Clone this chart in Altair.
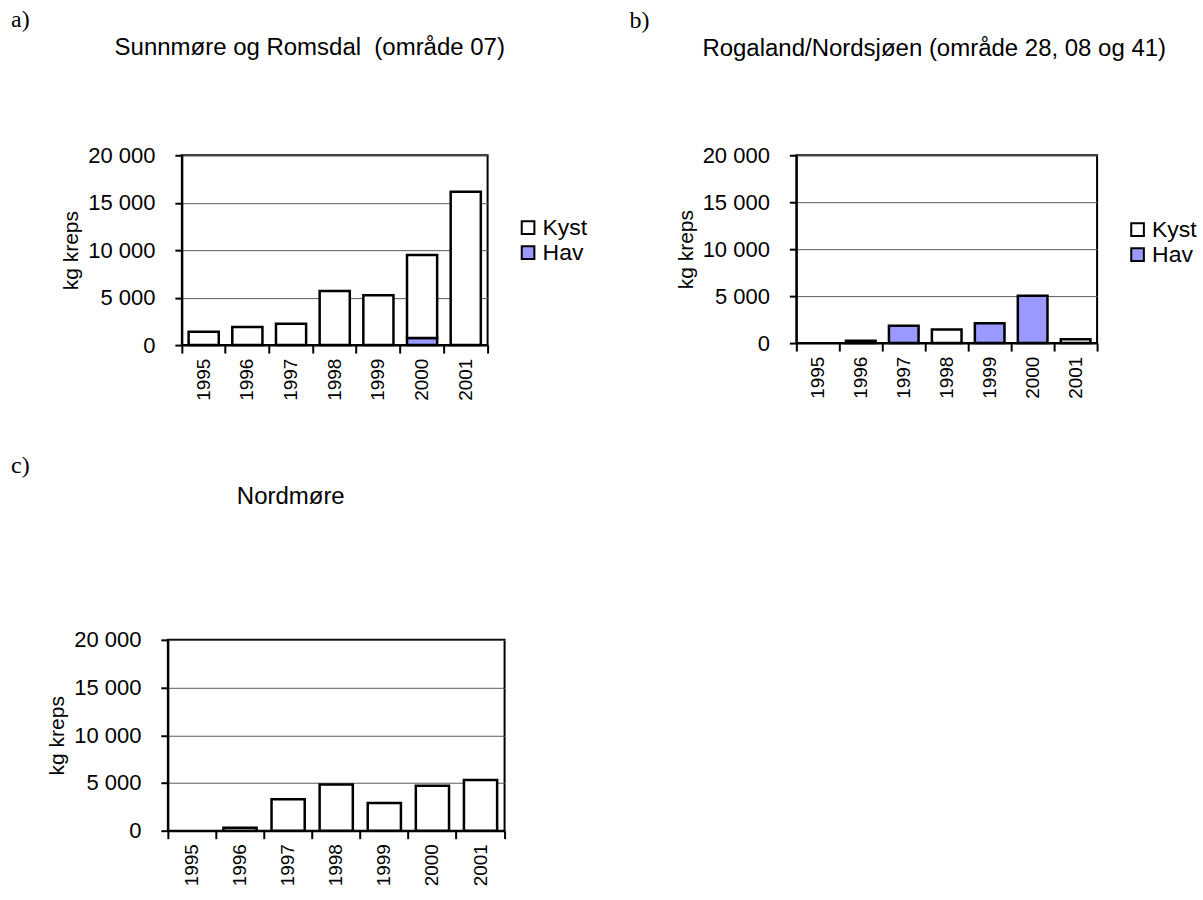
import altair as alt
import pandas as pd

years = [1995, 1996, 1997, 1998, 1999, 2000, 2001]
series = ["Kyst", "Hav"]
series_colors = ["#ffffff", "#9999ff"]

a_kyst = [1400, 1900, 2250, 5700, 5250, 8750, 16150]
a_hav = [0, 0, 0, 0, 0, 750, 0]
b_kyst = [0, 250, 0, 1450, 0, 0, 400]
b_hav = [0, 0, 1850, 0, 2100, 5050, 0]
c_kyst = [0, 300, 3300, 4850, 2900, 4700, 5300]
c_hav = [0, 0, 0, 0, 0, 0, 0]

y_ticks = [0, 5000, 10000, 15000, 20000]
y_title = "kg kreps"

letters = ["a)", "b)", "c)"]
titles = ["Sunnmøre og Romsdal\u00a0 (område 07)",
          "Rogaland/Nordsjøen (område 28, 08 og 41)",
          "Nordmøre"]

SANS = "Liberation Sans"
SERIF = "Liberation Serif"


def make_df(kyst, hav):
    rows = []
    for yr, k, h in zip(years, kyst, hav):
        rows.append({"year": yr, "serie": "Hav", "ord": 0, "kg": h})
        rows.append({"year": yr, "serie": "Kyst", "ord": 1, "kg": k})
    return pd.DataFrame(rows)


def panel(kyst, hav, letter, title, width, height, letter_xy, title_xy, legend_xy, extent_x):
    df = make_df(kyst, hav)
    if legend_xy is None:
        legend = None
    else:
        legend = alt.Legend(
            title=None, orient="none", legendX=legend_xy[0], legendY=legend_xy[1],
            symbolType="square", symbolSize=160, symbolStrokeColor="black",
            symbolStrokeWidth=2, labelFont=SANS, labelFontSize=23, labelColor="black",
            rowPadding=1, labelOffset=3,
        )
    bars = alt.Chart(df).transform_filter("datum.kg > 0").mark_bar(
        width=alt.RelativeBandSize(0.69), stroke="black", strokeWidth=2.5
    ).encode(
        x=alt.X("year:O", scale=alt.Scale(domain=years, paddingInner=0, paddingOuter=0),
                axis=alt.Axis(title=None, labelAngle=270, labelAlign="right",
                              labelBaseline="middle", bandPosition=1, tickExtra=True,
                              tickSize=8, tickWidth=2, tickColor="black",
                              domainColor="black", domainWidth=2, labelFont=SANS,
                              labelFontSize=19, labelColor="black", labelPadding=5,
                              grid=False)),
        y=alt.Y("kg:Q", stack="zero", scale=alt.Scale(domain=[0, 20000], nice=False),
                axis=alt.Axis(values=y_ticks,
                              labelExpr="datum.value >= 1000 ? floor(datum.value/1000) + ' 000' : '0'",
                              title=y_title, titleFont=SANS, titleFontSize=21,
                              titleFontWeight="normal", titleColor="black", titlePadding=6,
                              grid=True, gridColor="#5a5a5a", gridWidth=1,
                              tickSize=7, tickWidth=2, tickColor="black",
                              domainColor="black", domainWidth=2, labelFont=SANS,
                              labelFontSize=22, labelColor="black", labelPadding=20)),
        color=alt.Color("serie:N", scale=alt.Scale(domain=series, range=series_colors),
                        legend=legend),
        order=alt.Order("ord:Q"),
    )
    lab = alt.Chart(pd.DataFrame({"t": [letter]})).mark_text(
        font=SERIF, fontSize=24, align="left", baseline="top", color="black"
    ).encode(text="t:N", x=alt.value(letter_xy[0]), y=alt.value(letter_xy[1]))
    ttl = alt.Chart(pd.DataFrame({"t": [title]})).mark_text(
        font=SANS, fontSize=24, align="center", baseline="middle", color="black"
    ).encode(text="t:N", x=alt.value(title_xy[0]), y=alt.value(title_xy[1]))
    # white layout marker that fixes the right extent of the panel
    ext = alt.Chart(pd.DataFrame({"t": ["."]})).mark_text(
        fontSize=6, color="white", align="right", baseline="middle"
    ).encode(text="t:N", x=alt.value(extent_x), y=alt.value(20))
    return alt.layer(bars, lab, ttl, ext).properties(width=width, height=height)


pa = panel(a_kyst, a_hav, letters[0], titles[0], 306, 190, (-171, -147), (128, -107), (335, 61), 430)
pb = panel(b_kyst, b_hav, letters[1], titles[1], 301, 188, (-167, -146), (138, -106), (330, 63), 300)
pc = panel(c_kyst, c_hav, letters[2], titles[2], 337, 191, (-157, -186), (123, -143), None, 458)

chart = alt.concat(pa, pb, pc, columns=2, align="each", center={"column": True, "row": False},
                   spacing={"column": 2, "row": 51}).resolve_scale(
    color="independent"
).properties(
    padding={"left": 10, "top": 7, "right": 5, "bottom": 5},
    background="white",
).configure_view(stroke="black", strokeWidth=2)

chart.save("out.html", embed_options={"renderer": "svg", "actions": False})
